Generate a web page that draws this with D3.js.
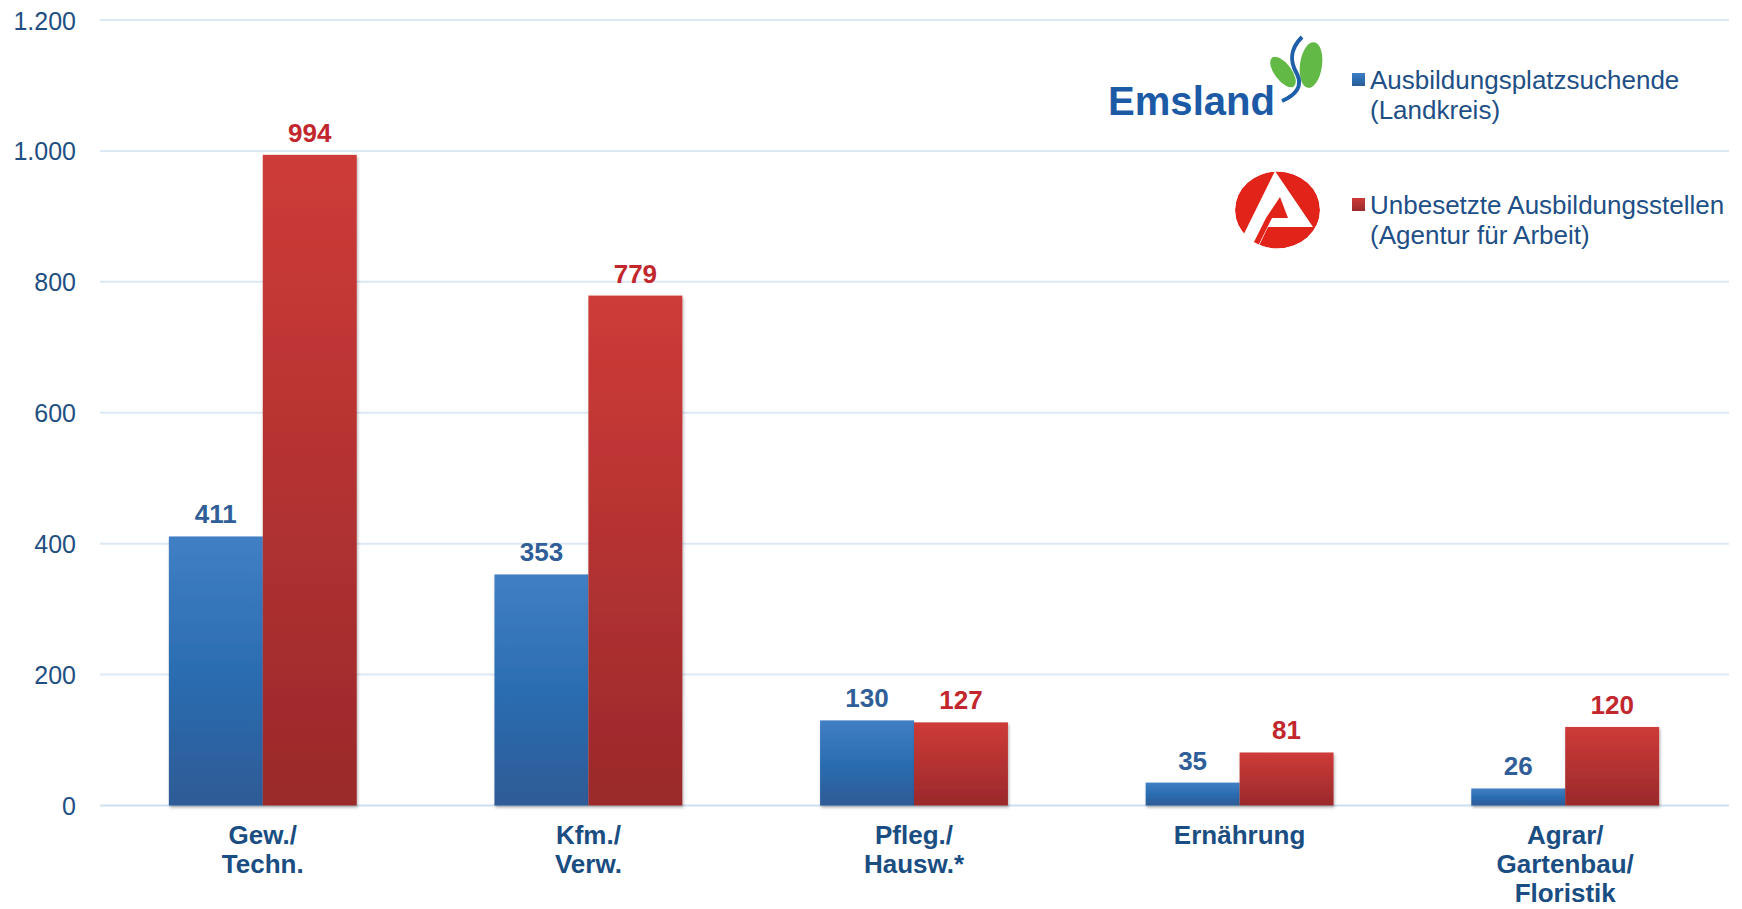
<!DOCTYPE html>
<html>
<head>
<meta charset="utf-8">
<script src="https://cdn.jsdelivr.net/npm/d3@7"></script>
<style>
  body { margin: 0; background: #fff; }
  text { font-family: "Liberation Sans", Arial, Helvetica, sans-serif; }
</style>
</head>
<body>
<div id="container"></div>
<script>
let w = 1742;
let h = 909;

// data
let categories = [
  ["Gew./", "Techn."],
  ["Kfm./", "Verw."],
  ["Pfleg./", "Hausw.*"],
  ["Ernährung"],
  ["Agrar/", "Gartenbau/", "Floristik"]
];
let suchende = [411, 353, 130, 35, 26];
let stellen = [994, 779, 127, 81, 120];
let yTicks = [0, 200, 400, 600, 800, 1000, 1200];
let seriesNames = [
  ["Ausbildungsplatzsuchende", "(Landkreis)"],
  ["Unbesetzte Ausbildungsstellen", "(Agentur für Arbeit)"]
];

let viz = d3.select("#container")
  .append("svg")
    .attr("width", w)
    .attr("height", h)
;

let defs = viz.append("defs");

let blueGrad = defs.append("linearGradient").attr("id", "blueGrad")
  .attr("x1", 0).attr("y1", 0).attr("x2", 0).attr("y2", 1);
blueGrad.append("stop").attr("offset", "0%").attr("stop-color", "#417fc4");
blueGrad.append("stop").attr("offset", "50%").attr("stop-color", "#2b6db1");
blueGrad.append("stop").attr("offset", "100%").attr("stop-color", "#2e5b96");

let redGrad = defs.append("linearGradient").attr("id", "redGrad")
  .attr("x1", 0).attr("y1", 0).attr("x2", 0).attr("y2", 1);
redGrad.append("stop").attr("offset", "0%").attr("stop-color", "#ce3b38");
redGrad.append("stop").attr("offset", "100%").attr("stop-color", "#9a292b");

let shadow = defs.append("filter").attr("id", "shadow")
  .attr("x", "-10%").attr("y", "-10%").attr("width", "130%").attr("height", "130%");
shadow.append("feDropShadow")
  .attr("dx", 1).attr("dy", 2).attr("stdDeviation", 1.5)
  .attr("flood-color", "#000").attr("flood-opacity", 0.3);

defs.append("clipPath").attr("id", "baClip")
  .append("ellipse").attr("cx", 1277.5).attr("cy", 210).attr("rx", 42.5).attr("ry", 38.5);

// scales
let xScale = d3.scaleBand()
  .domain(d3.range(categories.length))
  .range([100, 1728])
  .paddingInner(0.423)
  .paddingOuter(0.2115);

let yScale = d3.scaleLinear().domain([0, 1200]).range([805.5, 20]);

let fmt = d3.formatLocale({decimal: ",", thousands: ".", grouping: [3], currency: ["", "€"]}).format(",d");

// gridlines
viz.append("g").attr("class", "grid")
  .selectAll("line").data(yTicks).enter()
  .append("line")
    .attr("x1", 100).attr("x2", 1729)
    .attr("y1", d => yScale(d)).attr("y2", d => yScale(d))
    .attr("stroke", d => d == 0 ? "#cddff0" : "#dce8f4")
    .attr("stroke-width", 2)
;

// y axis
let yAxis = d3.axisLeft(yScale).tickValues(yTicks).tickFormat(fmt).tickSize(0).tickPadding(0);
let yAxisGroup = viz.append("g").attr("class", "yaxis")
  .attr("transform", "translate(76, 0)")
  .call(yAxis);
yAxisGroup.select(".domain").remove();
yAxisGroup.selectAll("text")
  .attr("font-size", "25px")
  .attr("fill", "#1f4f82")
  .attr("dy", "0.36em")
  .style("font-family", "'Liberation Sans', Arial, sans-serif");

// bars
let barW = xScale.bandwidth() / 2;
let rows = categories.map((c, i) => ({i: i, a: suchende[i], b: stellen[i]}));

let groups = viz.append("g").attr("class", "bars")
  .selectAll(".cat").data(rows).enter()
  .append("g").attr("class", "cat")
    .attr("transform", d => "translate(" + xScale(d.i) + ",0)");

groups.append("rect")
  .attr("x", 0)
  .attr("y", d => yScale(d.a))
  .attr("width", barW)
  .attr("height", d => yScale(0) - yScale(d.a))
  .attr("fill", "url(#blueGrad)")
  .attr("filter", "url(#shadow)");

groups.append("rect")
  .attr("x", barW)
  .attr("y", d => yScale(d.b))
  .attr("width", barW)
  .attr("height", d => yScale(0) - yScale(d.b))
  .attr("fill", "url(#redGrad)")
  .attr("filter", "url(#shadow)");

// value labels
groups.append("text")
  .attr("x", barW / 2)
  .attr("y", d => yScale(d.a) - 13)
  .attr("text-anchor", "middle")
  .attr("font-size", "26px")
  .attr("font-weight", "bold")
  .attr("fill", "#2f5e98")
  .text(d => fmt(d.a));

groups.append("text")
  .attr("x", barW * 1.5)
  .attr("y", d => yScale(d.b) - 13)
  .attr("text-anchor", "middle")
  .attr("font-size", "26px")
  .attr("font-weight", "bold")
  .attr("fill", "#c1272d")
  .text(d => fmt(d.b));

// category labels
let catLabels = viz.append("g").attr("class", "xaxis")
  .selectAll("text").data(categories).enter()
  .append("text")
    .attr("x", (d, i) => xScale(i) + xScale.bandwidth() / 2)
    .attr("y", 844)
    .attr("text-anchor", "middle")
    .attr("font-size", "26px")
    .attr("font-weight", "bold")
    .attr("fill", "#1a4d82");
catLabels.selectAll("tspan").data(d => d).enter()
  .append("tspan")
    .attr("x", function(){ return d3.select(this.parentNode).attr("x"); })
    .attr("dy", (d, i) => i == 0 ? 0 : 29)
    .text(d => d);

// legend
let legendY = [89, 214];
let legend = viz.append("g").attr("class", "legend")
  .selectAll("g").data(seriesNames).enter()
  .append("g")
    .attr("transform", (d, i) => "translate(1352," + legendY[i] + ")");
legend.append("rect")
  .attr("x", 0).attr("y", -16)
  .attr("width", 13).attr("height", 13)
  .attr("fill", (d, i) => i == 0 ? "url(#blueGrad)" : "url(#redGrad)");
legend.each(function(d){
  let g = d3.select(this);
  d.forEach(function(line, j){
    g.append("text")
      .attr("x", 18).attr("y", j * 30)
      .attr("font-size", "26px")
      .attr("fill", "#1e4f86")
      .text(line);
  });
});

// Emsland logo
let ems = viz.append("g").attr("class", "emsland");
ems.append("text")
  .attr("x", 1108).attr("y", 115)
  .attr("font-size", "41px")
  .attr("font-weight", "bold")
  .attr("textLength", 167)
  .attr("lengthAdjust", "spacingAndGlyphs")
  .attr("fill", "#1c5aa6")
  .text("Emsland");
ems.append("ellipse")
  .attr("cx", 0).attr("cy", 0).attr("rx", 8.5).attr("ry", 18)
  .attr("transform", "translate(1283,72) rotate(-37)")
  .attr("fill", "#62b946");
ems.append("ellipse")
  .attr("cx", 0).attr("cy", 0).attr("rx", 11).attr("ry", 23)
  .attr("transform", "translate(1311,65) rotate(8)")
  .attr("fill", "#62b946");
ems.append("path")
  .attr("d", "M1302,37 C1289,50 1290,62 1297,74 C1303,86 1296,95 1282,101")
  .attr("fill", "none")
  .attr("stroke", "#1f5ea8")
  .attr("stroke-width", 4);

// Agentur fuer Arbeit logo
let ba = viz.append("g").attr("class", "ba").attr("clip-path", "url(#baClip)");
ba.append("ellipse")
  .attr("cx", 1277.5).attr("cy", 210).attr("rx", 42.5).attr("ry", 38.5)
  .attr("fill", "#e2231a");
ba.append("polygon")
  .attr("points", "1275,171 1313,227 1268,227 1254,256 1233,256")
  .attr("fill", "#fff");
ba.append("polygon")
  .attr("points", "1280,197 1288,218 1266,218")
  .attr("fill", "#e2231a");
ba.append("polygon")
  .attr("points", "1266,218 1272,218 1253,256 1247,256")
  .attr("fill", "#e2231a");
</script>
</body>
</html>
